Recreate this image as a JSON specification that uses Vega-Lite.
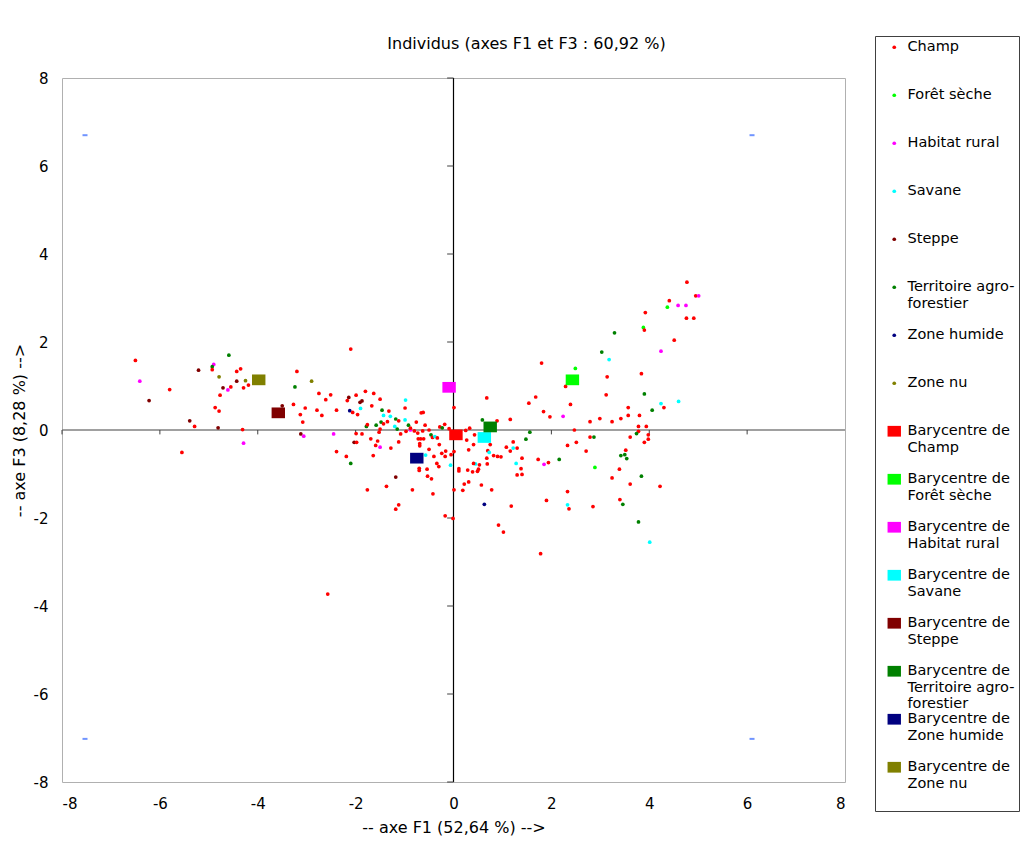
{
  "$schema": "https://vega.github.io/schema/vega-lite/v6.json",
  "width": 783,
  "height": 704,
  "autosize": "none",
  "padding": {"left": 62, "top": 78, "right": 184, "bottom": 65},
  "background": "white",
  "title": {"text": "Individus (axes F1 et F3 : 60,92 %)", "frame": "group", "anchor": "middle", "dx": 73, "offset": -16, "font": "DejaVu Sans", "fontSize": 16, "fontWeight": "normal", "color": "#000000"},
  "config": {
    "view": {"stroke": "#b0b0b0", "strokeWidth": 1},
    "axis": {"grid": false, "ticks": false, "domain": false, "labelFont": "DejaVu Sans", "labelFontSize": 15, "labelColor": "#000000", "titleFont": "DejaVu Sans", "titleFontSize": 16, "titleFontWeight": "normal", "titleColor": "#000000"},
    "legend": {"orient": "none", "legendX": 813, "legendY": -42, "title": null, "labelFont": "DejaVu Sans", "labelFontSize": 14.5, "labelColor": "#000000", "labelLimit": 300, "labelBaseline": "middle", "rowPadding": 0, "padding": 4, "strokeColor": "#404040", "fillColor": "white", "symbolOffset": 8, "labelOffset": 6, "symbolStrokeWidth": 0}
  },
  "encoding": {
    "x": {"field": "F1", "type": "quantitative", "scale": {"domain": [-8, 8], "nice": false, "zero": false}, "axis": {"title": "-- axe F1 (52,64 %) -->", "values": [-8, -6, -4, -2, 0, 2, 4, 6, 8], "labelExpr": "datum.value + ''", "labelPadding": 14, "titlePadding": 8}},
    "y": {"field": "F3", "type": "quantitative", "scale": {"domain": [-8, 8], "nice": false, "zero": false}, "axis": {"title": "-- axe F3 (8,28 %) -->", "values": [-8, -6, -4, -2, 0, 2, 4, 6, 8], "labelExpr": "datum.value + ''", "labelPadding": 14, "titlePadding": 6}}
  },
  "layer": [
    {
      "data": {"values": [{"F1": -8, "F1end": 8, "F3": 0, "F3end": 0}]},
      "mark": {"type": "rule", "color": "#808080", "strokeWidth": 1.5},
      "encoding": {"x2": {"field": "F1end"}, "y2": {"field": "F3end"}}
    },
    {
      "data": {"values": [{"F1": 0, "F1end": 0, "F3": -8, "F3end": 8}]},
      "mark": {"type": "rule", "color": "#000000", "strokeWidth": 1.2},
      "encoding": {"x2": {"field": "F1end"}, "y2": {"field": "F3end"}}
    },
    {
      "data": {"values": [
        {"F1": -8, "F1end": -8, "F3": 0, "F3end": -0.1},
        {"F1": -6, "F1end": -6, "F3": 0, "F3end": -0.1},
        {"F1": -4, "F1end": -4, "F3": 0, "F3end": -0.1},
        {"F1": -2, "F1end": -2, "F3": 0, "F3end": -0.1},
        {"F1": 2, "F1end": 2, "F3": 0, "F3end": -0.1},
        {"F1": 4, "F1end": 4, "F3": 0, "F3end": -0.1},
        {"F1": 6, "F1end": 6, "F3": 0, "F3end": -0.1},
        {"F1": 0, "F1end": -0.13, "F3": -8, "F3end": -8},
        {"F1": 0, "F1end": -0.13, "F3": -6, "F3end": -6},
        {"F1": 0, "F1end": -0.13, "F3": -4, "F3end": -4},
        {"F1": 0, "F1end": -0.13, "F3": -2, "F3end": -2},
        {"F1": 0, "F1end": -0.13, "F3": 2, "F3end": 2},
        {"F1": 0, "F1end": -0.13, "F3": 4, "F3end": 4},
        {"F1": 0, "F1end": -0.13, "F3": 6, "F3end": 6},
        {"F1": 0, "F1end": -0.13, "F3": 8, "F3end": 8}
      ]},
      "mark": {"type": "rule", "color": "#404040", "strokeWidth": 1},
      "encoding": {"x2": {"field": "F1end"}, "y2": {"field": "F3end"}}
    },
    {
      "data": {"values": [
        {"F1": -7.53, "F3": 6.7},
        {"F1": 6.1, "F3": 6.7},
        {"F1": -7.53, "F3": -7.02},
        {"F1": 6.1, "F3": -7.02}
      ]},
      "mark": {"type": "tick", "orient": "horizontal", "size": 5, "thickness": 2, "color": "#3366ff"}
    },
    {
      "data": {"values": [
        {"serie": "Champ", "F1": -6.50, "F3": 1.58},
        {"serie": "Habitat rural", "F1": -6.41, "F3": 1.11},
        {"serie": "Champ", "F1": -5.80, "F3": 0.92},
        {"serie": "Steppe", "F1": -6.22, "F3": 0.67},
        {"serie": "Territoire agro-forestier", "F1": -4.59, "F3": 1.70},
        {"serie": "Habitat rural", "F1": -4.90, "F3": 1.49},
        {"serie": "Territoire agro-forestier", "F1": -4.93, "F3": 1.44},
        {"serie": "Champ", "F1": -4.93, "F3": 1.37},
        {"serie": "Steppe", "F1": -5.21, "F3": 1.36},
        {"serie": "Zone nu", "F1": -4.79, "F3": 1.21},
        {"serie": "Champ", "F1": -4.43, "F3": 1.33},
        {"serie": "Champ", "F1": -4.35, "F3": 1.39},
        {"serie": "Steppe", "F1": -4.43, "F3": 1.11},
        {"serie": "Zone nu", "F1": -4.25, "F3": 1.12},
        {"serie": "Steppe", "F1": -4.71, "F3": 0.96},
        {"serie": "Champ", "F1": -4.55, "F3": 0.98},
        {"serie": "Habitat rural", "F1": -4.61, "F3": 0.91},
        {"serie": "Champ", "F1": -4.29, "F3": 0.96},
        {"serie": "Champ", "F1": -4.19, "F3": 1.02},
        {"serie": "Champ", "F1": -4.77, "F3": 0.79},
        {"serie": "Champ", "F1": -4.87, "F3": 0.51},
        {"serie": "Champ", "F1": -4.79, "F3": 0.43},
        {"serie": "Steppe", "F1": -5.39, "F3": 0.21},
        {"serie": "Champ", "F1": -5.29, "F3": 0.08},
        {"serie": "Steppe", "F1": -4.81, "F3": 0.05},
        {"serie": "Champ", "F1": -4.31, "F3": 0.01},
        {"serie": "Habitat rural", "F1": -4.29, "F3": -0.30},
        {"serie": "Champ", "F1": -5.55, "F3": -0.51},
        {"serie": "Champ", "F1": -3.20, "F3": 1.33},
        {"serie": "Zone nu", "F1": -2.90, "F3": 1.11},
        {"serie": "Territoire agro-forestier", "F1": -3.24, "F3": 0.98},
        {"serie": "Champ", "F1": -2.75, "F3": 0.83},
        {"serie": "Champ", "F1": -2.51, "F3": 0.80},
        {"serie": "Champ", "F1": -2.61, "F3": 0.69},
        {"serie": "Steppe", "F1": -2.14, "F3": 0.74},
        {"serie": "Champ", "F1": -2.17, "F3": 0.67},
        {"serie": "Steppe", "F1": -3.50, "F3": 0.55},
        {"serie": "Champ", "F1": -3.27, "F3": 0.58},
        {"serie": "Champ", "F1": -3.03, "F3": 0.50},
        {"serie": "Champ", "F1": -3.13, "F3": 0.35},
        {"serie": "Champ", "F1": -2.79, "F3": 0.45},
        {"serie": "Champ", "F1": -2.69, "F3": 0.33},
        {"serie": "Champ", "F1": -2.39, "F3": 0.45},
        {"serie": "Zone humide", "F1": -2.12, "F3": 0.44},
        {"serie": "Champ", "F1": -3.08, "F3": 0.18},
        {"serie": "Steppe", "F1": -3.12, "F3": -0.09},
        {"serie": "Habitat rural", "F1": -3.06, "F3": -0.14},
        {"serie": "Habitat rural", "F1": -2.45, "F3": -0.09},
        {"serie": "Champ", "F1": -2.39, "F3": -0.49},
        {"serie": "Champ", "F1": -2.19, "F3": -0.60},
        {"serie": "Territoire agro-forestier", "F1": -2.10, "F3": -0.76},
        {"serie": "Champ", "F1": -2.10, "F3": 1.84},
        {"serie": "Champ", "F1": -2.57, "F3": -3.73},
        {"serie": "Champ", "F1": -1.99, "F3": 0.79},
        {"serie": "Champ", "F1": -1.80, "F3": 0.88},
        {"serie": "Champ", "F1": -1.63, "F3": 0.83},
        {"serie": "Champ", "F1": -1.50, "F3": 0.70},
        {"serie": "Steppe", "F1": -1.91, "F3": 0.63},
        {"serie": "Steppe", "F1": -1.87, "F3": 0.66},
        {"serie": "Champ", "F1": -2.06, "F3": 0.40},
        {"serie": "Champ", "F1": -1.96, "F3": 0.35},
        {"serie": "Champ", "F1": -1.67, "F3": 0.55},
        {"serie": "Savane", "F1": -0.98, "F3": 0.68},
        {"serie": "Savane", "F1": -1.90, "F3": 0.49},
        {"serie": "Champ", "F1": -0.99, "F3": 0.50},
        {"serie": "Territoire agro-forestier", "F1": -1.46, "F3": 0.45},
        {"serie": "Champ", "F1": -1.32, "F3": 0.43},
        {"serie": "Savane", "F1": -1.43, "F3": 0.33},
        {"serie": "Savane", "F1": -1.29, "F3": 0.31},
        {"serie": "Territoire agro-forestier", "F1": -1.18, "F3": 0.25},
        {"serie": "Champ", "F1": -1.12, "F3": 0.21},
        {"serie": "Champ", "F1": -1.35, "F3": 0.19},
        {"serie": "Savane", "F1": -0.99, "F3": 0.23},
        {"serie": "Champ", "F1": -0.66, "F3": 0.39},
        {"serie": "Champ", "F1": -0.62, "F3": 0.40},
        {"serie": "Champ", "F1": -0.76, "F3": 0.18},
        {"serie": "Territoire agro-forestier", "F1": -1.48, "F3": 0.18},
        {"serie": "Champ", "F1": -1.43, "F3": 0.14},
        {"serie": "Territoire agro-forestier", "F1": -1.78, "F3": 0.08},
        {"serie": "Champ", "F1": -1.76, "F3": 0.12},
        {"serie": "Territoire agro-forestier", "F1": -1.58, "F3": 0.11},
        {"serie": "Champ", "F1": -1.52, "F3": -0.05},
        {"serie": "Savane", "F1": -1.20, "F3": 0.08},
        {"serie": "Territoire agro-forestier", "F1": -1.15, "F3": 0.02},
        {"serie": "Champ", "F1": -1.50, "F3": 0.02},
        {"serie": "Champ", "F1": -1.08, "F3": -0.09},
        {"serie": "Champ", "F1": -0.97, "F3": -0.03},
        {"serie": "Habitat rural", "F1": -0.88, "F3": 0.00},
        {"serie": "Territoire agro-forestier", "F1": -0.92, "F3": 0.11},
        {"serie": "Champ", "F1": -0.88, "F3": 0.04},
        {"serie": "Champ", "F1": -0.80, "F3": -0.02},
        {"serie": "Champ", "F1": -0.73, "F3": -0.07},
        {"serie": "Champ", "F1": -0.63, "F3": -0.02},
        {"serie": "Champ", "F1": -0.58, "F3": 0.11},
        {"serie": "Champ", "F1": -0.50, "F3": 0.00},
        {"serie": "Territoire agro-forestier", "F1": -0.46, "F3": -0.11},
        {"serie": "Champ", "F1": -0.43, "F3": -0.17},
        {"serie": "Savane", "F1": -0.38, "F3": -0.15},
        {"serie": "Champ", "F1": -0.33, "F3": -0.18},
        {"serie": "Champ", "F1": -0.28, "F3": 0.07},
        {"serie": "Territoire agro-forestier", "F1": -0.23, "F3": 0.05},
        {"serie": "Champ", "F1": -0.18, "F3": 0.13},
        {"serie": "Champ", "F1": -0.09, "F3": 0.03},
        {"serie": "Champ", "F1": -0.72, "F3": -0.20},
        {"serie": "Champ", "F1": -0.67, "F3": -0.20},
        {"serie": "Champ", "F1": -0.61, "F3": -0.20},
        {"serie": "Champ", "F1": -0.69, "F3": -0.31},
        {"serie": "Champ", "F1": -0.69, "F3": -0.36},
        {"serie": "Champ", "F1": -1.12, "F3": -0.27},
        {"serie": "Champ", "F1": -1.28, "F3": -0.41},
        {"serie": "Habitat rural", "F1": -1.50, "F3": -0.39},
        {"serie": "Champ", "F1": -1.59, "F3": -0.35},
        {"serie": "Champ", "F1": -1.55, "F3": -0.25},
        {"serie": "Champ", "F1": -1.69, "F3": -0.20},
        {"serie": "Champ", "F1": -1.87, "F3": -0.09},
        {"serie": "Champ", "F1": -1.99, "F3": -0.08},
        {"serie": "Steppe", "F1": -2.03, "F3": -0.28},
        {"serie": "Champ", "F1": -1.98, "F3": -0.28},
        {"serie": "Champ", "F1": -1.64, "F3": -0.58},
        {"serie": "Champ", "F1": -0.50, "F3": -0.44},
        {"serie": "Champ", "F1": -0.29, "F3": -0.33},
        {"serie": "Champ", "F1": -0.24, "F3": -0.53},
        {"serie": "Champ", "F1": -0.17, "F3": -0.60},
        {"serie": "Champ", "F1": -0.40, "F3": -0.60},
        {"serie": "Champ", "F1": -0.05, "F3": -0.56},
        {"serie": "Champ", "F1": 0.01, "F3": -0.49},
        {"serie": "Champ", "F1": -0.16, "F3": -0.48},
        {"serie": "Champ", "F1": -0.34, "F3": -0.76},
        {"serie": "Champ", "F1": -0.30, "F3": -0.83},
        {"serie": "Champ", "F1": -0.54, "F3": -0.89},
        {"serie": "Champ", "F1": -0.70, "F3": -0.87},
        {"serie": "Champ", "F1": -0.70, "F3": -0.92},
        {"serie": "Savane", "F1": -0.57, "F3": -0.57},
        {"serie": "Savane", "F1": -0.06, "F3": -0.80},
        {"serie": "Champ", "F1": -0.53, "F3": -1.05},
        {"serie": "Champ", "F1": -0.45, "F3": -1.11},
        {"serie": "Champ", "F1": -1.37, "F3": -1.28},
        {"serie": "Champ", "F1": -1.76, "F3": -1.36},
        {"serie": "Champ", "F1": -0.84, "F3": -1.36},
        {"serie": "Steppe", "F1": -1.18, "F3": -1.07},
        {"serie": "Champ", "F1": -0.42, "F3": -1.45},
        {"serie": "Champ", "F1": -1.12, "F3": -1.70},
        {"serie": "Champ", "F1": -1.18, "F3": -1.80},
        {"serie": "Champ", "F1": 0.01, "F3": -1.36},
        {"serie": "Champ", "F1": -0.17, "F3": -1.95},
        {"serie": "Champ", "F1": -0.01, "F3": -2.01},
        {"serie": "Champ", "F1": 0.01, "F3": 0.51},
        {"serie": "Champ", "F1": 0.68, "F3": 0.73},
        {"serie": "Champ", "F1": 0.89, "F3": 0.21},
        {"serie": "Territoire agro-forestier", "F1": 0.59, "F3": 0.23},
        {"serie": "Champ", "F1": 1.16, "F3": 0.24},
        {"serie": "Champ", "F1": 1.54, "F3": 0.61},
        {"serie": "Champ", "F1": 1.68, "F3": 0.75},
        {"serie": "Champ", "F1": 1.84, "F3": 0.42},
        {"serie": "Champ", "F1": 1.97, "F3": 0.30},
        {"serie": "Habitat rural", "F1": 2.24, "F3": 0.31},
        {"serie": "Champ", "F1": 2.29, "F3": 0.99},
        {"serie": "Territoire agro-forestier", "F1": 1.56, "F3": -0.05},
        {"serie": "Territoire agro-forestier", "F1": 1.48, "F3": -0.21},
        {"serie": "Champ", "F1": 0.43, "F3": -0.11},
        {"serie": "Champ", "F1": 0.25, "F3": -0.01},
        {"serie": "Champ", "F1": 0.33, "F3": 0.04},
        {"serie": "Champ", "F1": 0.27, "F3": -0.23},
        {"serie": "Champ", "F1": 0.41, "F3": -0.33},
        {"serie": "Champ", "F1": 0.31, "F3": -0.45},
        {"serie": "Champ", "F1": 0.70, "F3": -0.47},
        {"serie": "Savane", "F1": 0.73, "F3": -0.51},
        {"serie": "Champ", "F1": 0.75, "F3": -0.33},
        {"serie": "Champ", "F1": 0.68, "F3": -0.64},
        {"serie": "Champ", "F1": 0.82, "F3": -0.58},
        {"serie": "Champ", "F1": 0.90, "F3": -0.60},
        {"serie": "Champ", "F1": 0.97, "F3": -0.61},
        {"serie": "Champ", "F1": 0.69, "F3": -0.77},
        {"serie": "Champ", "F1": 0.53, "F3": -0.79},
        {"serie": "Savane", "F1": 0.45, "F3": -0.77},
        {"serie": "Champ", "F1": 0.41, "F3": -0.76},
        {"serie": "Champ", "F1": 0.11, "F3": -0.88},
        {"serie": "Champ", "F1": 0.11, "F3": -0.93},
        {"serie": "Champ", "F1": 0.29, "F3": -0.91},
        {"serie": "Champ", "F1": 0.39, "F3": -0.95},
        {"serie": "Champ", "F1": 0.49, "F3": -0.94},
        {"serie": "Champ", "F1": 0.51, "F3": -0.89},
        {"serie": "Champ", "F1": 0.31, "F3": -1.18},
        {"serie": "Champ", "F1": 0.22, "F3": -1.23},
        {"serie": "Champ", "F1": 0.57, "F3": -1.25},
        {"serie": "Champ", "F1": 0.78, "F3": -1.36},
        {"serie": "Champ", "F1": 0.19, "F3": -1.37},
        {"serie": "Zone humide", "F1": 0.63, "F3": -1.69},
        {"serie": "Champ", "F1": 0.92, "F3": -2.16},
        {"serie": "Champ", "F1": 1.02, "F3": -2.32},
        {"serie": "Champ", "F1": 1.08, "F3": -0.39},
        {"serie": "Champ", "F1": 1.22, "F3": -0.27},
        {"serie": "Savane", "F1": 1.22, "F3": -0.41},
        {"serie": "Champ", "F1": 1.30, "F3": -0.41},
        {"serie": "Champ", "F1": 1.16, "F3": -0.48},
        {"serie": "Champ", "F1": 1.40, "F3": -0.64},
        {"serie": "Savane", "F1": 1.28, "F3": -0.76},
        {"serie": "Champ", "F1": 1.38, "F3": -0.88},
        {"serie": "Champ", "F1": 1.40, "F3": -1.01},
        {"serie": "Champ", "F1": 1.30, "F3": -1.02},
        {"serie": "Champ", "F1": 1.73, "F3": -0.67},
        {"serie": "Habitat rural", "F1": 1.85, "F3": -0.78},
        {"serie": "Champ", "F1": 1.94, "F3": -0.74},
        {"serie": "Territoire agro-forestier", "F1": 2.16, "F3": -0.67},
        {"serie": "Champ", "F1": 2.33, "F3": -0.35},
        {"serie": "Champ", "F1": 2.33, "F3": -1.40},
        {"serie": "Savane", "F1": 2.33, "F3": -1.70},
        {"serie": "Champ", "F1": 1.18, "F3": -1.73},
        {"serie": "Champ", "F1": 1.90, "F3": -1.60},
        {"serie": "Champ", "F1": 2.36, "F3": -1.79},
        {"serie": "Champ", "F1": 1.78, "F3": -2.81},
        {"serie": "Champ", "F1": 4.77, "F3": 3.36},
        {"serie": "Champ", "F1": 4.95, "F3": 3.05},
        {"serie": "Habitat rural", "F1": 5.01, "F3": 3.05},
        {"serie": "Champ", "F1": 4.41, "F3": 2.94},
        {"serie": "Forêt sèche", "F1": 4.37, "F3": 2.79},
        {"serie": "Habitat rural", "F1": 4.59, "F3": 2.83},
        {"serie": "Habitat rural", "F1": 4.75, "F3": 2.83},
        {"serie": "Champ", "F1": 4.76, "F3": 2.54},
        {"serie": "Champ", "F1": 4.91, "F3": 2.54},
        {"serie": "Champ", "F1": 3.92, "F3": 2.67},
        {"serie": "Forêt sèche", "F1": 3.88, "F3": 2.33},
        {"serie": "Champ", "F1": 3.90, "F3": 2.27},
        {"serie": "Territoire agro-forestier", "F1": 3.29, "F3": 2.21},
        {"serie": "Champ", "F1": 4.51, "F3": 2.04},
        {"serie": "Habitat rural", "F1": 4.24, "F3": 1.79},
        {"serie": "Territoire agro-forestier", "F1": 3.03, "F3": 1.77},
        {"serie": "Savane", "F1": 3.18, "F3": 1.60},
        {"serie": "Champ", "F1": 1.80, "F3": 1.52},
        {"serie": "Forêt sèche", "F1": 2.49, "F3": 1.40},
        {"serie": "Champ", "F1": 3.14, "F3": 1.21},
        {"serie": "Champ", "F1": 3.84, "F3": 1.28},
        {"serie": "Champ", "F1": 3.12, "F3": 0.80},
        {"serie": "Territoire agro-forestier", "F1": 3.90, "F3": 0.82},
        {"serie": "Champ", "F1": 2.39, "F3": 0.58},
        {"serie": "Champ", "F1": 3.57, "F3": 0.51},
        {"serie": "Savane", "F1": 4.24, "F3": 0.60},
        {"serie": "Champ", "F1": 4.30, "F3": 0.51},
        {"serie": "Savane", "F1": 4.60, "F3": 0.65},
        {"serie": "Territoire agro-forestier", "F1": 4.06, "F3": 0.45},
        {"serie": "Champ", "F1": 3.57, "F3": 0.33},
        {"serie": "Champ", "F1": 3.80, "F3": 0.33},
        {"serie": "Champ", "F1": 3.42, "F3": 0.26},
        {"serie": "Champ", "F1": 2.99, "F3": 0.26},
        {"serie": "Champ", "F1": 3.24, "F3": 0.19},
        {"serie": "Champ", "F1": 2.79, "F3": 0.19},
        {"serie": "Champ", "F1": 3.78, "F3": 0.08},
        {"serie": "Champ", "F1": 3.94, "F3": 0.08},
        {"serie": "Champ", "F1": 2.47, "F3": 0.00},
        {"serie": "Champ", "F1": 2.79, "F3": -0.16},
        {"serie": "Territoire agro-forestier", "F1": 2.87, "F3": -0.16},
        {"serie": "Champ", "F1": 3.78, "F3": -0.03},
        {"serie": "Territoire agro-forestier", "F1": 3.74, "F3": -0.08},
        {"serie": "Champ", "F1": 3.98, "F3": -0.11},
        {"serie": "Champ", "F1": 3.61, "F3": -0.16},
        {"serie": "Champ", "F1": 3.98, "F3": -0.21},
        {"serie": "Champ", "F1": 3.90, "F3": -0.28},
        {"serie": "Champ", "F1": 2.51, "F3": -0.28},
        {"serie": "Champ", "F1": 2.71, "F3": -0.48},
        {"serie": "Champ", "F1": 3.52, "F3": -0.46},
        {"serie": "Territoire agro-forestier", "F1": 3.42, "F3": -0.58},
        {"serie": "Territoire agro-forestier", "F1": 3.50, "F3": -0.56},
        {"serie": "Territoire agro-forestier", "F1": 3.54, "F3": -0.65},
        {"serie": "Forêt sèche", "F1": 2.89, "F3": -0.85},
        {"serie": "Champ", "F1": 3.39, "F3": -0.89},
        {"serie": "Territoire agro-forestier", "F1": 3.84, "F3": -1.05},
        {"serie": "Champ", "F1": 3.24, "F3": -1.09},
        {"serie": "Champ", "F1": 3.61, "F3": -1.23},
        {"serie": "Champ", "F1": 4.22, "F3": -1.28},
        {"serie": "Champ", "F1": 2.85, "F3": -1.74},
        {"serie": "Champ", "F1": 3.40, "F3": -1.58},
        {"serie": "Territoire agro-forestier", "F1": 3.46, "F3": -1.69},
        {"serie": "Territoire agro-forestier", "F1": 3.78, "F3": -2.09},
        {"serie": "Savane", "F1": 4.01, "F3": -2.55},
        {"serie": "Barycentre de Champ", "F1": 0.05, "F3": -0.11},
        {"serie": "Barycentre de Forêt sèche", "F1": 2.43, "F3": 1.14},
        {"serie": "Barycentre de Habitat rural", "F1": -0.09, "F3": 0.97},
        {"serie": "Barycentre de Savane", "F1": 0.63, "F3": -0.17},
        {"serie": "Barycentre de Steppe", "F1": -3.58, "F3": 0.39},
        {"serie": "Barycentre de Territoire agro-forestier", "F1": 0.75, "F3": 0.07},
        {"serie": "Barycentre de Zone humide", "F1": -0.75, "F3": -0.64},
        {"serie": "Barycentre de Zone nu", "F1": -3.98, "F3": 1.14}
      ]},
      "mark": {"type": "point", "filled": true, "opacity": 1, "strokeWidth": 0},
      "encoding": {
        "color": {"field": "serie", "type": "nominal",
          "scale": {"domain": ["Champ", "Forêt sèche", "Habitat rural", "Savane", "Steppe", "Territoire agro-forestier", "Zone humide", "Zone nu", "Barycentre de Champ", "Barycentre de Forêt sèche", "Barycentre de Habitat rural", "Barycentre de Savane", "Barycentre de Steppe", "Barycentre de Territoire agro-forestier", "Barycentre de Zone humide", "Barycentre de Zone nu"],
            "range": ["#ff0000", "#00ff00", "#ff00ff", "#00ffff", "#800000", "#008000", "#000080", "#808000", "#ff0000", "#00ff00", "#ff00ff", "#00ffff", "#800000", "#008000", "#000080", "#808000"]},
          "legend": {"labelExpr": "datum.label == 'Barycentre de Territoire agro-forestier' ? ['Barycentre de', 'Territoire agro-', 'forestier'] : datum.label == 'Territoire agro-forestier' ? ['Territoire agro-', 'forestier', ''] : indexof(datum.label, 'Barycentre de ') == 0 ? ['Barycentre de', substring(datum.label, 14), ''] : [datum.label, '', '']"}},
        "shape": {"field": "serie", "type": "nominal",
          "scale": {"domain": ["Champ", "Forêt sèche", "Habitat rural", "Savane", "Steppe", "Territoire agro-forestier", "Zone humide", "Zone nu", "Barycentre de Champ", "Barycentre de Forêt sèche", "Barycentre de Habitat rural", "Barycentre de Savane", "Barycentre de Steppe", "Barycentre de Territoire agro-forestier", "Barycentre de Zone humide", "Barycentre de Zone nu"],
            "range": ["circle", "circle", "circle", "circle", "circle", "circle", "circle", "circle", "M-1,-0.8L1,-0.8L1,0.8L-1,0.8Z", "M-1,-0.8L1,-0.8L1,0.8L-1,0.8Z", "M-1,-0.8L1,-0.8L1,0.8L-1,0.8Z", "M-1,-0.8L1,-0.8L1,0.8L-1,0.8Z", "M-1,-0.8L1,-0.8L1,0.8L-1,0.8Z", "M-1,-0.8L1,-0.8L1,0.8L-1,0.8Z", "M-1,-0.8L1,-0.8L1,0.8L-1,0.8Z", "M-1,-0.8L1,-0.8L1,0.8L-1,0.8Z"]}},
        "size": {"field": "serie", "type": "nominal",
          "scale": {"type": "ordinal", "domain": ["Champ", "Forêt sèche", "Habitat rural", "Savane", "Steppe", "Territoire agro-forestier", "Zone humide", "Zone nu", "Barycentre de Champ", "Barycentre de Forêt sèche", "Barycentre de Habitat rural", "Barycentre de Savane", "Barycentre de Steppe", "Barycentre de Territoire agro-forestier", "Barycentre de Zone humide", "Barycentre de Zone nu"],
            "range": [14, 14, 14, 14, 14, 14, 14, 14, 180, 180, 180, 180, 180, 180, 180, 180]}}
      }
    }
  ]
}
